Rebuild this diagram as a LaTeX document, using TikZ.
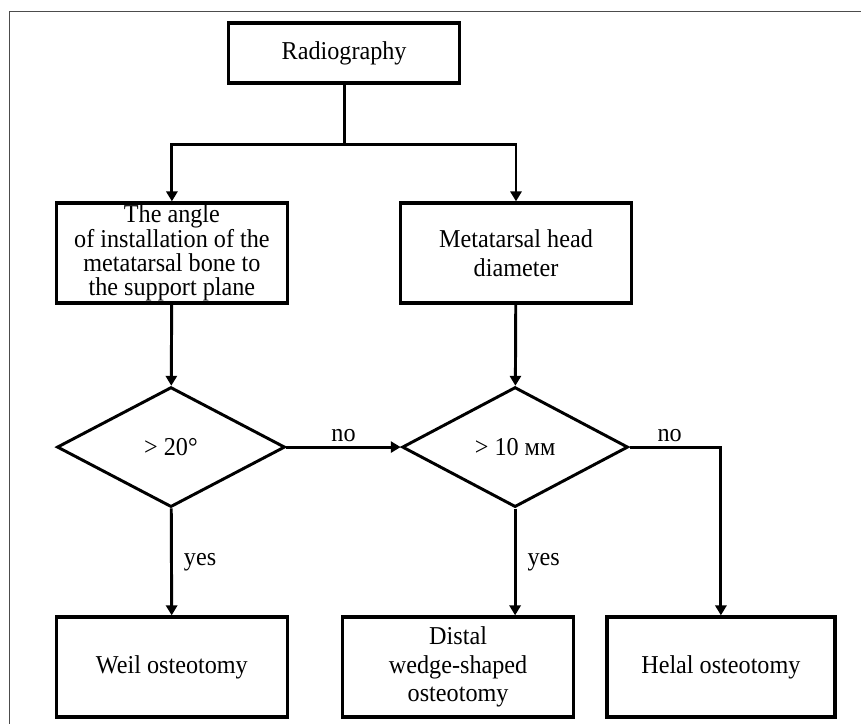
\documentclass[tikz,border=0pt]{standalone}
\usepackage{fontspec}
\setmainfont[FakeStretch=0.94]{Liberation Serif}
\usetikzlibrary{shapes.geometric,arrows.meta}

\begin{document}
\begin{tikzpicture}[font=\fontsize{24.4pt}{27pt}\selectfont,
  box/.style={draw, line width=3.2pt, minimum width=7.7cm, minimum height=3.33cm, align=center, inner sep=1pt},
  decision/.style={draw, diamond, line width=2.8pt, minimum width=7.6cm, minimum height=4cm, inner sep=0pt},
  link/.style={line width=2.8pt},
  arr/.style={line width=2.8pt, -{Triangle[width=0.37cm,length=0.33cm]}}]
\useasboundingbox (0,0) rectangle (28.7,24.133);
\coordinate (framebl) at (0.3,0);
\coordinate (frametl) at (0.3,23.77);
\coordinate (frametr) at (28.7,23.77);
\draw[gray!60!black, line width=0.6pt] (framebl) -- (frametl) -- (frametr);
\node[box, minimum height=2cm] (radiography) at (11.47,22.37) {Radiography};
\coordinate (split) at (11.47,19.33);
\node[box, font=\fontsize{24.4pt}{23pt}\selectfont] (angle) at (5.73,15.7) {The angle\\of installation of the\\metatarsal bone to\\the support plane};
\node[box] (headdiam) at (17.2,15.7) {Metatarsal head\\diameter};
\node[decision] (cond20) at (5.7,9.23) {> 20°};
\node[decision, minimum width=7.53cm] (cond10) at (17.17,9.23) {> 10 мм};
\node[box] (weil) at (5.73,1.9) {Weil osteotomy};
\node[box] (distal) at (15.27,1.9) {Distal\\wedge-shaped\\osteotomy};
\node[box, minimum width=7.6cm] (helal) at (24.03,1.9) {Helal osteotomy};
\draw[link] (radiography) -- (split);
\draw[arr] (split) -| (angle);
\draw[arr] (split) -| (headdiam);
\draw[arr] (angle) -- (cond20);
\draw[arr] (headdiam) -- (cond10);
\draw[arr] (cond20) -- node[above] {no} (cond10);
\draw[arr] (cond20) -- node[right, xshift=0.25cm] {yes} (weil);
\draw[arr] (cond10) -- node[right, xshift=0.25cm] {yes} (cond10 |- distal.north);
\draw[arr] (cond10) -| node[above, pos=0.22] {no} (helal);
\end{tikzpicture}
\end{document}
